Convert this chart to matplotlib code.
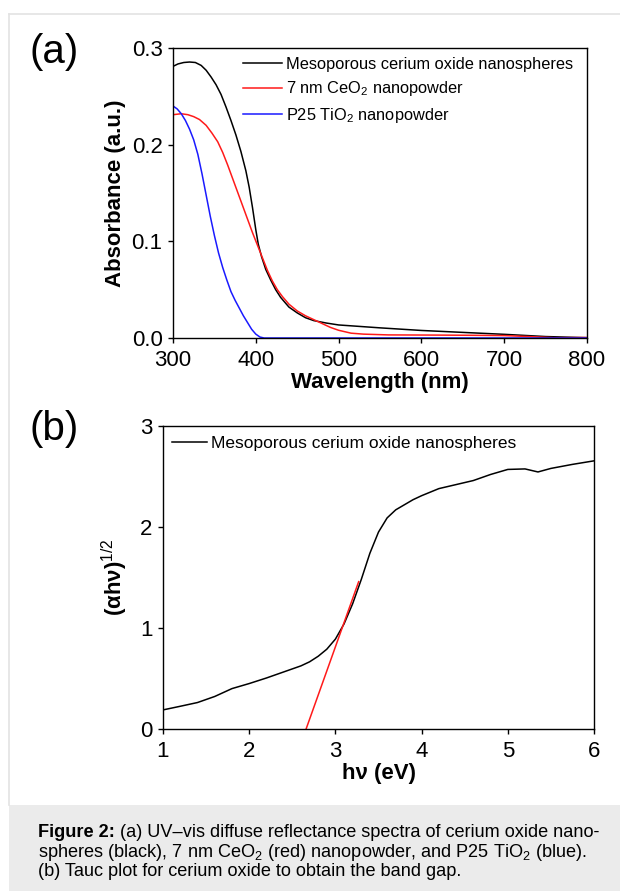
import matplotlib
matplotlib.use('Agg')
import matplotlib.pyplot as plt
from matplotlib.patches import Rectangle
from matplotlib.lines import Line2D

plt.rcParams['font.family'] = ['Liberation Sans', 'DejaVu Sans']
plt.rcParams['mathtext.fontset'] = 'custom'
plt.rcParams['mathtext.rm'] = 'Liberation Sans'
plt.rcParams['mathtext.it'] = 'Liberation Sans:italic'
plt.rcParams['mathtext.bf'] = 'Liberation Sans:bold'

# (a) UV-vis spectra
WL_BLACK = [300, 306, 313, 320, 327, 334, 340, 346, 352, 358, 364, 370, 376, 382, 388, 392, 396,
            400, 403, 407, 412, 418, 424, 430, 440, 450, 460, 470, 485, 500, 550, 600, 650, 700,
            750, 800]
ABS_BLACK = [0.281, 0.2835, 0.285, 0.2855, 0.285, 0.282, 0.277, 0.270, 0.262, 0.252, 0.239, 0.225,
             0.210, 0.193, 0.173, 0.156, 0.135, 0.112, 0.097, 0.084, 0.071, 0.060, 0.050, 0.042,
             0.032, 0.026, 0.021, 0.018, 0.0155, 0.0135, 0.0105, 0.0078, 0.0058, 0.0038, 0.0015,
             0.0003]
WL_RED = [300, 310, 318, 325, 332, 340, 347, 354, 360, 366, 372, 378, 384, 390, 396, 402, 408, 414,
          420, 426, 432, 440, 450, 460, 470, 480, 490, 500, 515, 530, 560, 620, 660, 700, 730, 760,
          800]
ABS_RED = [0.231, 0.232, 0.231, 0.229, 0.226, 0.220, 0.212, 0.203, 0.192, 0.179, 0.165, 0.151,
           0.137, 0.123, 0.109, 0.096, 0.083, 0.070, 0.059, 0.050, 0.043, 0.035, 0.028, 0.023,
           0.019, 0.015, 0.011, 0.008, 0.005, 0.004, 0.0032, 0.003, 0.0028, 0.0025, 0.0015, 0.0003,
           0.0005]
WL_BLUE = [300, 305, 310, 315, 320, 325, 330, 335, 340, 345, 350, 355, 360, 365, 370, 375, 380, 385,
           390, 395, 400, 405, 410, 500, 600, 700, 800]
ABS_BLUE = [0.240, 0.237, 0.232, 0.225, 0.216, 0.205, 0.190, 0.170, 0.148, 0.126, 0.106, 0.088,
            0.073, 0.060, 0.048, 0.039, 0.031, 0.023, 0.016, 0.009, 0.004, 0.001, 0.0, 0.0, 0.0,
            0.0, 0.0]
LABELS_A = ['Mesoporous cerium oxide nanospheres', '7 nm CeO$_2$ nanopowder', 'P25 TiO$_2$ nanopowder']

# (b) Tauc plot
EV = [1.0, 1.2, 1.4, 1.6, 1.8, 2.0, 2.2, 2.4, 2.6, 2.7, 2.8, 2.9, 3.0, 3.1, 3.2, 3.3, 3.4, 3.5,
      3.6, 3.7, 3.8, 3.9, 4.0, 4.2, 4.4, 4.6, 4.8, 5.0, 5.2, 5.35, 5.5, 5.75, 6.0]
TAUC = [0.189, 0.225, 0.262, 0.322, 0.40, 0.45, 0.505, 0.565, 0.625, 0.665, 0.72, 0.79, 0.89, 1.04,
        1.24, 1.48, 1.74, 1.95, 2.09, 2.17, 2.22, 2.27, 2.31, 2.38, 2.42, 2.46, 2.52, 2.57, 2.575,
        2.545, 2.58, 2.62, 2.655]
FIT_EV = [2.66, 3.27]
FIT_Y = [0.0, 1.459]

W, H = 620, 891
fig = plt.figure(figsize=(W / 100, H / 100), dpi=100)

# page frame and caption box
fig.add_artist(Line2D([9 / W, 9 / W], [1 - 14 / H, 1 - 805 / H], color='#e3e3e3', lw=1.2))
fig.add_artist(Line2D([9 / W, 1], [1 - 14 / H, 1 - 14 / H], color='#e3e3e3', lw=1.2))
fig.add_artist(Rectangle((9 / W, 0), 1 - 9 / W, 1 - 805 / H, color='#ebebeb', lw=0))


def style(ax):
    for s in ax.spines.values():
        s.set_linewidth(1.0)
    ax.tick_params(direction='out', length=3.5, width=1.0, labelsize=16,
                   top=False, right=False)
    ax.tick_params(axis='x', pad=5)
    ax.tick_params(axis='y', pad=4)


ax1 = fig.add_axes([173 / W, 1 - 338 / H, (587 - 173) / W, (338 - 48) / H])
ax1.plot(WL_BLACK, ABS_BLACK, color='black', lw=1.1, label=LABELS_A[0])
ax1.plot(WL_RED, ABS_RED, color='#ff1a1a', lw=1.1, label=LABELS_A[1])
ax1.plot(WL_BLUE, ABS_BLUE, color='#1a1aff', lw=1.1, label=LABELS_A[2])
ax1.set_xlim(300, 800)
ax1.set_ylim(0, 0.3)
ax1.set_xticks([300, 400, 500, 600, 700, 800])
ax1.set_yticks([0.0, 0.1, 0.2, 0.3])
ax1.set_yticklabels(['0.0', '0.1', '0.2', '0.3'])
style(ax1)
ax1.set_xlabel('Wavelength (nm)', fontsize=16, fontweight='bold', labelpad=1)
ax1.set_ylabel('Absorbance (a.u.)', fontsize=16, fontweight='bold', labelpad=4)
ax1.legend(loc='upper left', bbox_to_anchor=(243 / W, 1 - 57 / H), bbox_transform=fig.transFigure,
           frameon=False, fontsize=11.8, handlelength=2.35, handletextpad=0.3, labelspacing=0.45,
           borderpad=0, borderaxespad=0)

ax2 = fig.add_axes([163 / W, 1 - 729 / H, (594 - 163) / W, (729 - 426) / H])
ax2.plot(EV, TAUC, color='black', lw=1.1, label='Mesoporous cerium oxide nanospheres')
ax2.plot(FIT_EV, FIT_Y, color='#ff1a1a', lw=1.1)
ax2.set_xlim(1, 6)
ax2.set_ylim(0, 3)
ax2.set_xticks([1, 2, 3, 4, 5, 6])
ax2.set_yticks([0, 1, 2, 3])
style(ax2)
ax2.set_xlabel('hν (eV)', fontsize=16, fontweight='bold', labelpad=1)
ax2.set_ylabel('(αhν)$^{1/2}$', fontsize=16, fontweight='bold', labelpad=7)
ax2.legend(loc='upper left', bbox_to_anchor=(172 / W, 1 - 436 / H), bbox_transform=fig.transFigure,
           frameon=False, fontsize=12.5, handlelength=2.0, handletextpad=0.25,
           borderpad=0, borderaxespad=0)

fig.text(29 / W, 1 - 63 / H, '(a)', fontsize=29, va='baseline')
fig.text(29 / W, 1 - 440 / H, '(b)', fontsize=29, va='baseline')

# caption
cx = 38 / W
fs = 13.1
b = fig.text(cx, 1 - 837 / H, 'Figure 2:', fontsize=fs, fontweight='bold', va='baseline')
r = fig.canvas.get_renderer()
bw = b.get_window_extent(renderer=r).width / W
fig.text(cx + bw, 1 - 837 / H, ' (a) UV–vis diffuse reflectance spectra of cerium oxide nano-',
         fontsize=fs, va='baseline')
fig.text(cx, 1 - 857 / H, 'spheres (black), 7 nm CeO$_2$ (red) nanopowder, and P25 TiO$_2$ (blue).',
         fontsize=fs, va='baseline')
fig.text(cx, 1 - 876 / H, '(b) Tauc plot for cerium oxide to obtain the band gap.',
         fontsize=fs, va='baseline')

fig.savefig('out.png', dpi=100)
